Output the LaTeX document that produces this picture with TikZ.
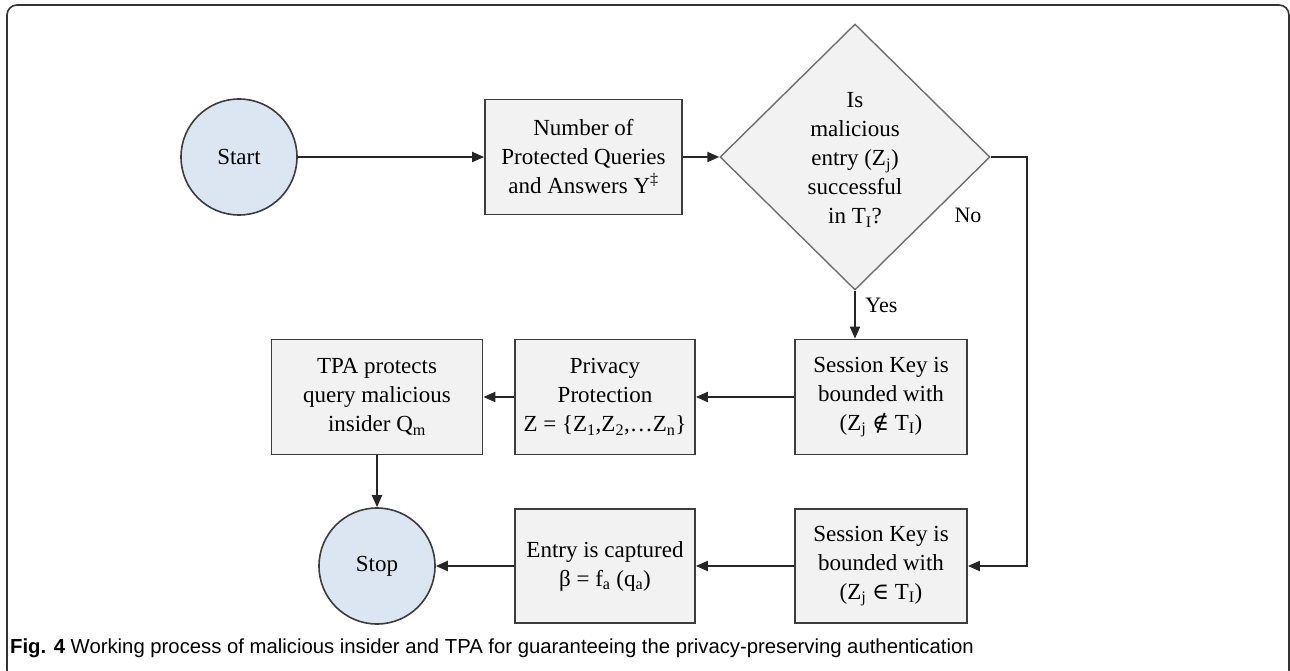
\documentclass[tikz,border=0pt]{standalone}
\usepackage{fontspec}
\setmainfont{Liberation Serif}
\newfontfamily\capfont{Liberation Sans}
\newfontfamily\symfont{DejaVu Serif}
\usetikzlibrary{arrows.meta,shapes.geometric,calc}
\newcommand\dn[1]{\textsubscript{#1}}
\definecolor{boxfill}{HTML}{F2F2F2}
\definecolor{boxline}{HTML}{3C3C3C}
\definecolor{circfill}{HTML}{DCE6F2}
\definecolor{diamline}{HTML}{6E6E6E}
\begin{document}
\begin{tikzpicture}[x=1pt,y=-1pt,
  every node/.style={font=\fontsize{23}{29}\selectfont},
  procbox/.style={draw=boxline, line width=1.8pt, fill=boxfill, align=center,
    inner sep=0pt, minimum height=115pt},
  termcirc/.style={circle, draw=boxline, line width=1.6pt, fill=circfill,
    minimum size=116pt, inner sep=0pt},
  decision/.style={diamond, draw=diamline, line width=1.4pt, fill=boxfill,
    minimum width=270pt, minimum height=266pt, inner sep=0pt},
  flow/.style={draw=black!85, line width=2pt, -{Triangle[length=12pt,width=10pt]}},
  lbl/.style={font=\fontsize{22}{26}\selectfont}
]
\useasboundingbox (0,0) rectangle (1290,671);
\fill[white] (0,0) rectangle (1290,671);

% outer frame
\begin{scope}
\clip (0,0) rectangle (1290,671);
\draw[black!80, line width=1.6pt, rounded corners=10pt] (7,5) rectangle (1289,680);
\end{scope}

% top row
\node[termcirc] (start) at (239,157) {Start};
\node[procbox, minimum width=197pt] (nq) at (583.5,157)
  {Number of\\Protected Queries\\and Answers Y\textsuperscript{‡}};
\node[decision] (dec) at (855,157) {};
\node[align=center] (dectext) at (855,160)
  {Is\\malicious\\entry (Z\dn{j})\\successful\\in T\dn{I}?};

% middle row
\node[procbox, minimum width=172pt] (sk1) at (881,397)
  {Session Key is\\bounded with\\(Z\dn{j} {\symfont ∉} T\dn{I})};
\node[procbox, minimum width=180pt] (pp) at (605,397)
  {Privacy\\Protection\\Z = \{Z\dn{1},Z\dn{2},…Z\dn{n}\}};
\node[procbox, minimum width=211pt] (tpa) at (377,397)
  {TPA protects\\query malicious\\insider Q\dn{m}};

% bottom row
\node[procbox, minimum width=172pt, minimum height=114pt] (sk2) at (881,566)
  {Session Key is\\bounded with\\(Z\dn{j} {\symfont ∈} T\dn{I})};
\node[procbox, minimum width=180pt, minimum height=114pt] (ent) at (605,566)
  {Entry is captured\\β = f\dn{a} (q\dn{a})};
\node[termcirc] (stop) at (377,566) {Stop};

% connectors
\draw[flow] (start) -- (nq);
\draw[flow] (nq) -- (dec.west);
\draw[flow] (dec.south) -- (dec.south |- sk1.north)
  node[lbl, pos=0.3, right=6pt] (yes) {Yes};
\coordinate (bend) at (1027,157);
\draw[flow] (dec.east) -- (bend) -- (bend |- sk2.east) -- (sk2.east);
\node[lbl] (no) at (968,215) {No};
\draw[flow] (sk1) -- (pp);
\draw[flow] (pp) -- (tpa);
\draw[flow] (tpa) -- (stop);
\draw[flow] (sk2) -- (ent);
\draw[flow] (ent) -- (stop);

% caption
\node[anchor=base west, inner sep=0pt, font=\capfont\fontsize{20.3}{22}\selectfont] (cap) at (10,653)
  {\textbf{Fig. 4} Working process of malicious insider and TPA for guaranteeing the privacy-preserving authentication};
\end{tikzpicture}
\end{document}
